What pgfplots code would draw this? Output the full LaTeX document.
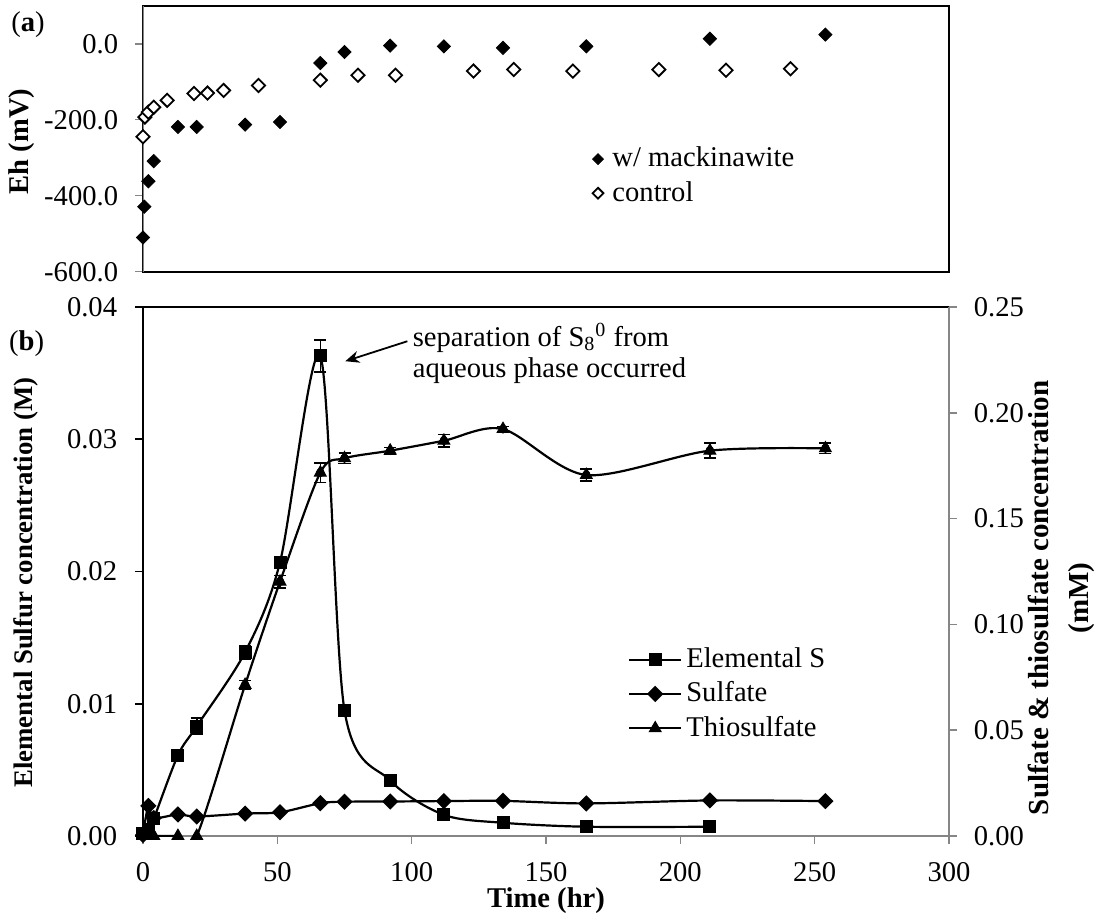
\documentclass[border=0pt]{standalone}
\usepackage{pgfplots}
\pgfplotsset{compat=1.18}
\usepackage{fontspec}
\setmainfont{Liberation Serif}
\usetikzlibrary{arrows.meta}

\definecolor{axgray}{RGB}{134,134,134}

\pgfplotsset{
  every axis/.append style={
    font=\fontsize{14.3bp}{17bp}\selectfont,
    scale only axis,
    scaled ticks=false,
    /pgf/number format/assume math mode=true,
    tick align=outside,
    major tick length=4bp,
  },
  curve/.style={black, line width=1.1bp, smooth, tension=0.5,
    mark options={solid, fill=black, draw=black, line width=0.5bp}},
  errbars/.style={only marks, mark=none, forget plot,
    error bars/.cd, y dir=both, y explicit,
    error bar style={draw=black, line width=0.8bp},
    error mark options={draw=black, rotate=90, mark size=3bp, line width=0.8bp}},
  linelegend/.style={legend image code/.code={
    \draw[mark repeat=2, mark phase=2] plot coordinates {(0bp,0bp) (13bp,0bp) (26bp,0bp)};}},
  marklegend/.style={legend image code/.code={
    \draw[mark size=2.7bp] plot coordinates {(0bp,0bp)};
    \path (5bp,0bp);}},
}

\begin{document}
\fontsize{14.3bp}{17bp}\selectfont
\begin{tikzpicture}
\useasboundingbox (-71.5bp,-39.5bp) rectangle (484.5bp,418bp);

% ---------- (a) redox potential ----------
\begin{axis}[
  at={(0bp,282.15bp)}, anchor=south west,
  width=403bp, height=133bp,
  xmin=0, xmax=300, ymin=-600, ymax=100,
  xtick=\empty,
  ytick pos=left,
  ytick={-600,-400,-200,0},
  yticklabels={-600.0,-400.0,-200.0,0.0},
  yticklabel style={xshift=-3.5bp},
  y tick style={axgray, line width=0.8bp},
  axis line style={line width=1bp},
  ylabel={\bfseries Eh (mV)},
  ylabel style={at={(axis description cs:-0.150,0.49)}, anchor=center},
  legend style={draw=none, fill=none, at={(axis description cs:0.550,0.50)},
    anchor=north west, font=\fontsize{14.3bp}{17bp}\selectfont,
    row sep=1bp},
  legend cell align=left,
]
\draw[axgray, line width=1bp] (rel axis cs:0,0) -- (rel axis cs:0,1);
\addplot[only marks, mark=diamond*, mark size=3.3bp,
  mark options={xscale=1.333, fill=black, draw=black}, marklegend]
  coordinates {
  (0,-510) (0.5,-429) (2,-362) (4,-309) (13,-219) (20,-219) (38,-213)
  (51,-206) (66,-51) (75,-22) (92,-5) (112,-7) (134,-11) (165,-7)
  (211,13) (254,24)
  };
\addlegendentry{w/ mackinawite}
\addplot[only marks, mark=diamond*, mark size=3.3bp,
  mark options={xscale=1.333, fill=white, draw=black, line width=0.9bp}, marklegend]
  coordinates {
  (0,-245) (0.7,-193) (2,-180) (4,-167) (9,-149) (19,-131) (24,-130)
  (30,-123) (43,-110) (66,-96) (80,-83) (94,-83) (123,-72) (138,-68)
  (160,-72) (192,-68) (217,-70) (241,-66)
  };
\addlegendentry{control}
\end{axis}
\node at (-57.5bp,405.5bp) {(\textbf{a})};

% ---------- (b) elemental sulfur, left scale ----------
\begin{axis}[
  at={(0bp,0bp)}, anchor=south west,
  width=403bp, height=264.5bp,
  xmin=0, xmax=300, ymin=0, ymax=0.04,
  axis x line*=bottom, axis y line*=left,
  axis line style={-},
  x axis line style={axgray, line width=1bp},
  y axis line style={black, line width=1bp},
  xtick={0,50,100,150,200,250,300},
  xticklabels={0,50,100,150,200,250,300},
  xticklabel style={yshift=-4.5bp},
  x tick style={axgray, line width=0.8bp},
  y tick style={black, line width=0.8bp},
  ytick={0,0.01,0.02,0.03,0.04},
  yticklabels={0.00,0.01,0.02,0.03,0.04},
  yticklabel style={xshift=-4bp},
  xlabel={\bfseries Time (hr)},
  xlabel style={at={(axis description cs:0.5,-0.123)}, anchor=center},
  ylabel={\bfseries Elemental Sulfur concentration (M)},
  ylabel style={at={(axis description cs:-0.145,0.479)}, anchor=center,
    font=\fontsize{13.4bp}{16bp}\selectfont},
]
\draw[black, line width=1bp] (rel axis cs:0,1) -- (rel axis cs:1,1);
\addplot[errbars] coordinates {
  (20,0.0083) +- (0,0.0006)
  (38,0.0139) +- (0,0.0005)
  (51,0.0207) +- (0,0.0003)
  (66,0.0363) +- (0,0.0012)
  };
\addplot[curve, mark=square*, mark size=3bp] coordinates {
  (0,0.0002) (2,0.0005) (4,0.0013) (13,0.0061) (20,0.0083) (38,0.0139)
  (51,0.0207) (66,0.0363) (75,0.0095) (92,0.0042) (112,0.0016)
  (134,0.0010) (165,0.0007) (211,0.0007)
  };
\node[anchor=west, align=left, inner sep=0pt,
  font=\fontsize{14.3bp}{15.5bp}\selectfont]
  at (axis cs:100.3,0.0365)
  {separation of S\textsubscript{8}\textsuperscript{0} from\\aqueous phase occurred};
\draw[-{Stealth[length=7bp,width=6bp]}, line width=0.9bp]
  (axis cs:98.4,0.03741) -- (axis cs:75.3,0.0359);
\end{axis}
\node at (-58.2bp,246.4bp) {(\textbf{b})};

% ---------- (b) sulfate and thiosulfate, right scale ----------
\begin{axis}[
  at={(0bp,0bp)}, anchor=south west,
  width=403bp, height=264.5bp,
  xmin=0, xmax=300, ymin=0, ymax=0.25,
  axis x line=none, axis y line*=right,
  axis line style={-},
  y axis line style={axgray, line width=1bp},
  y tick style={axgray, line width=0.8bp},
  ytick={0,0.05,0.10,0.15,0.20,0.25},
  yticklabels={0.00,0.05,0.10,0.15,0.20,0.25},
  yticklabel style={xshift=3.5bp},
  ylabel={\bfseries Sulfate \& thiosulfate concentration\\\bfseries (mM)},
  ylabel style={at={(axis description cs:1.139,0.45)}, anchor=center, align=center,
    font=\fontsize{14.5bp}{20bp}\selectfont},
  legend style={draw=none, fill=none, at={(axis description cs:0.594,0.372)},
    anchor=north west, font=\fontsize{14.3bp}{17bp}\selectfont, row sep=1bp},
  legend cell align=left,
]
\addlegendimage{curve, mark=square*, mark size=3bp, linelegend}
\addlegendentry{Elemental S}
\addplot[errbars] coordinates {
  (38,0.0714) +- (0,0.0020)
  (51,0.1202) +- (0,0.0030)
  (66,0.1717) +- (0,0.0047)
  (75,0.1785) +- (0,0.0025)
  (92,0.1821) +- (0,0.0015)
  (112,0.1868) +- (0,0.0030)
  (134,0.1923) +- (0,0.0012)
  (165,0.1706) +- (0,0.0027)
  (211,0.1821) +- (0,0.0035)
  (254,0.1832) +- (0,0.0024)
  };
\addplot[curve, mark=diamond*, mark size=3.3bp,
  mark options={xscale=1.333}, linelegend] coordinates {
  (0,0.0005) (2,0.0142) (4,0.0085) (13,0.0102) (20,0.0092) (38,0.0106)
  (51,0.0112) (66,0.0155) (75,0.0162) (92,0.0163) (112,0.0165)
  (134,0.0166) (165,0.0154) (211,0.0168) (254,0.0165)
  };
\addlegendentry{Sulfate}
\addplot[curve, mark=triangle*, mark size=3.4bp, linelegend] coordinates {
  (0,0) (2,0) (4,0) (13,0) (20,0) (38,0.0714) (51,0.1202) (66,0.1717)
  (75,0.1785) (92,0.1821) (112,0.1868) (134,0.1923) (165,0.1706)
  (211,0.1821) (254,0.1832)
  };
\addlegendentry{Thiosulfate}
\end{axis}
\end{tikzpicture}
\end{document}
